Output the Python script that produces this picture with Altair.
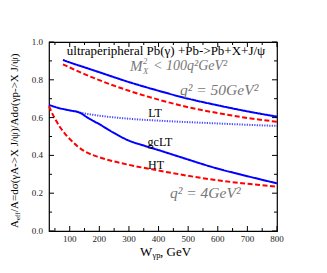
import altair as alt
import pandas as pd

W_PX, H_PX = 228, 189
SERIF = "Liberation Serif"

# ---- data ----
w_lt50 = [77, 100, 150, 200, 300, 400, 500, 600, 700, 800]
a_lt50 = [0.905, 0.892, 0.866, 0.840, 0.788, 0.742, 0.700, 0.665, 0.633, 0.605]

w_ht50 = [77, 100, 150, 200, 300, 400, 500, 600, 700, 800]
a_ht50 = [0.882, 0.865, 0.830, 0.798, 0.742, 0.695, 0.655, 0.624, 0.598, 0.578]

w_lt4 = [134, 200, 300, 400, 500, 600, 700, 800]
a_lt4 = [0.626, 0.610, 0.594, 0.584, 0.576, 0.569, 0.562, 0.556]

w_gc4 = [30, 60, 100, 134, 160, 200, 250, 300, 350, 400, 450, 500, 540, 600, 700, 800]
a_gc4 = [0.667, 0.652, 0.638, 0.626, 0.600, 0.565, 0.518, 0.478, 0.452, 0.428,
         0.403, 0.378, 0.358, 0.330, 0.290, 0.252]

w_ht4 = [30, 40, 50, 65, 83, 100, 125, 150, 200, 250, 300, 400, 500, 600, 700, 800]
a_ht4 = [0.660, 0.625, 0.595, 0.555, 0.517, 0.487, 0.450, 0.422, 0.390, 0.368,
         0.350, 0.320, 0.292, 0.268, 0.250, 0.234]

curve_names = ["LT50", "HT50", "LT4", "gcLT4", "HT4"]
curve_colors = ["#0000ff", "#ff0000", "#4646ff", "#0000ff", "#ff0000"]
curve_dashes = [[1, 0], [5, 2.5], [1.2, 1.3], [1, 0], [5, 2.5]]

x_major = [100, 200, 300, 400, 500, 600, 700, 800]
x_major_labels = ["100", "200", "300", "400", "500", "600", "700", "800"]
x_minor = [50, 150, 250, 350, 450, 550, 650, 750]
y_major = [0.0, 0.2, 0.4, 0.6, 0.8, 1.0]
y_major_labels = ["0.0", "0.2", "0.4", "0.6", "0.8", "1.0"]
y_minor = [0.1, 0.3, 0.5, 0.7, 0.9]

title_text = "ultraperipheral Pb(\u03b3) +Pb->Pb+X+J/\u03c8"
mx_parts = ["M", "2", "X", "< 100q\u00b2GeV\u00b2"]
q50_text = "q\u00b2 = 50GeV\u00b2"
q4_text = "q\u00b2 = 4GeV\u00b2"
curve_labels = ["LT", "gcLT", "HT"]
ytitle_parts = ["A", "eff", "/A=d\u03c3(\u03b3A->X J/\u03c8)/Ad\u03c3(\u03b3p->X J/\u03c8)"]
xtitle_parts = ["W", "\u03b3p", ", GeV"]

# ---- build table ----
rows = []
for name, ws, vs in [("LT50", w_lt50, a_lt50), ("HT50", w_ht50, a_ht50),
                     ("LT4", w_lt4, a_lt4), ("gcLT4", w_gc4, a_gc4),
                     ("HT4", w_ht4, a_ht4)]:
    for w, v in zip(ws, vs):
        rows.append({"W": w, "A": v, "curve": name})
df = pd.DataFrame(rows)

x_scale = alt.Scale(domain=[30, 800], nice=False, zero=False)
y_scale = alt.Scale(domain=[0, 1], nice=False)

lines = alt.Chart(df).mark_line(strokeWidth=2, interpolate="monotone").encode(
    x=alt.X("W:Q", scale=x_scale, axis=None),
    y=alt.Y("A:Q", scale=y_scale, axis=None),
    color=alt.Color("curve:N", scale=alt.Scale(domain=curve_names, range=curve_colors), legend=None),
    strokeDash=alt.StrokeDash("curve:N", scale=alt.Scale(domain=curve_names, range=curve_dashes),
                              legend=None),
    detail="curve:N",
)

def xticks(vals, length, top):
    d = pd.DataFrame({"W": vals})
    if top:
        yy, yy2 = 0, length
    else:
        yy, yy2 = H_PX, H_PX - length
    return alt.Chart(d).mark_rule(color="black", strokeWidth=1).encode(
        x=alt.X("W:Q", scale=x_scale, axis=None), y=alt.value(yy), y2=alt.value(yy2))

def yticks(vals, length, right):
    d = pd.DataFrame({"A": vals})
    if right:
        xx, xx2 = W_PX, W_PX - length
    else:
        xx, xx2 = 0, length
    return alt.Chart(d).mark_rule(color="black", strokeWidth=1).encode(
        y=alt.Y("A:Q", scale=y_scale, axis=None), x=alt.value(xx), x2=alt.value(xx2))

ticks = [xticks(x_major, 5, False), xticks(x_minor, 3, False),
         xticks(x_major, 5, True), xticks(x_minor, 3, True),
         yticks(y_major, 5, False), yticks(y_minor, 3, False),
         yticks(y_major, 5, True), yticks(y_minor, 3, True)]

x_tick_labels = alt.Chart(pd.DataFrame({"W": x_major, "t": x_major_labels})).mark_text(
    font=SERIF, fontSize=9, color="#222", align="center", baseline="top"
).encode(x=alt.X("W:Q", scale=x_scale, axis=None), y=alt.value(H_PX + 4), text="t:N")

y_tick_labels = alt.Chart(pd.DataFrame({"A": y_major, "t": y_major_labels})).mark_text(
    font=SERIF, fontSize=9, color="#222", align="right", baseline="middle"
).encode(y=alt.Y("A:Q", scale=y_scale, axis=None), x=alt.value(-6), text="t:N")

def label(text, x, y, size, color="black", italic=False, align="left", angle=0, baseline="middle"):
    kw = dict(font=SERIF, fontSize=size, color=color, align=align, baseline=baseline)
    if italic:
        kw["fontStyle"] = "italic"
    if angle:
        kw["angle"] = angle
    return alt.Chart(pd.DataFrame({"t": [text]})).mark_text(**kw).encode(
        text="t:N", x=alt.value(x), y=alt.value(y))

GRAY = "#777777"
texts = [
    label(title_text, 117, 8.5, 13, align="center"),
    label(mx_parts[0], 81, 23.5, 15, GRAY, italic=True),
    label(mx_parts[1], 94, 18.5, 8.5, GRAY, italic=True),
    label(mx_parts[2], 94, 28.5, 8.5, GRAY, italic=True),
    label(mx_parts[3], 104, 23.5, 14, GRAY, italic=True),
    label(q50_text, 131, 48, 15.5, GRAY, italic=True),
    label(q4_text, 121, 151, 15.5, GRAY, italic=True),
    label(curve_labels[0], 106, 71, 12, align="center"),
    label(curve_labels[1], 111, 100, 12, align="center"),
    label(curve_labels[2], 107, 123, 12, align="center"),
    label(ytitle_parts[0], -34, 186, 11, angle=270),
    label(ytitle_parts[1], -31.5, 178, 7, angle=270),
    label(ytitle_parts[2], -34, 170, 11, angle=270),
    label(xtitle_parts[0], 91, 210, 13),
    label(xtitle_parts[1], 103.5, 213, 8.5),
    label(xtitle_parts[2], 111, 210, 13),
]

chart = alt.layer(lines, *ticks, x_tick_labels, y_tick_labels, *texts).properties(
    width=W_PX, height=H_PX,
    autosize=alt.AutoSizeParams(type="none"),
    padding={"left": 41, "top": 34, "right": 42, "bottom": 34},
).configure_view(
    stroke="black", strokeWidth=1.2
)

chart.save("out.html", embed_options={"renderer": "svg", "actions": False})
